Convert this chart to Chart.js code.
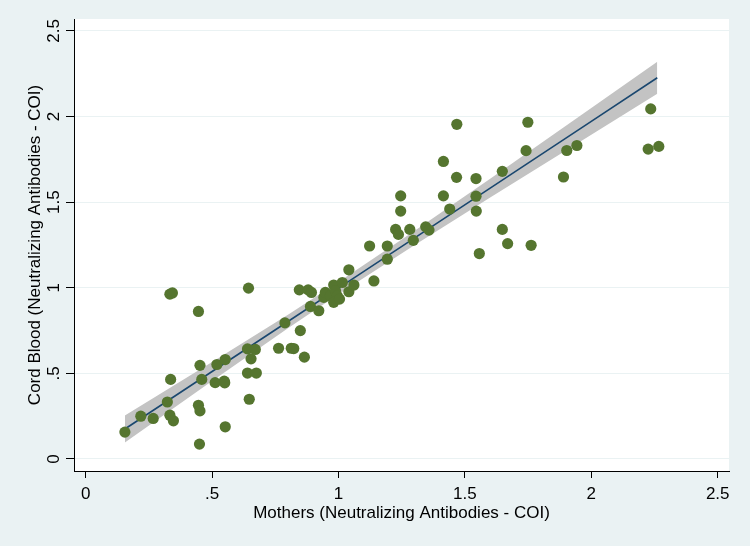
<!DOCTYPE html>
<html>
<head>
<meta charset="utf-8">
<script src="https://cdn.jsdelivr.net/npm/chart.js@4"></script>
<style>
  body { margin: 0; background: #eaf2f3; }
  #chart { display: block; }
</style>
</head>
<body>
<canvas id="chart" width="750" height="546"></canvas>
<script>
const motherValues = [
    0.155, 0.218, 0.267, 0.323, 0.333, 0.347, 0.336, 0.333, 0.343, 0.446,
    0.446, 0.452, 0.450, 0.459, 0.452, 0.519, 0.552, 0.512, 0.548, 0.550,
    0.552, 0.644, 0.640, 0.671, 0.654, 0.640, 0.675, 0.647,
    0.763, 0.788, 0.813, 0.823, 0.845, 0.849, 0.865, 0.880, 0.893, 0.889,
    0.922, 0.942, 0.948, 0.968, 0.981, 0.988, 0.995, 0.981, 1.004, 1.015,
    1.041, 1.061, 1.041, 1.140, 1.123, 1.193, 1.193,
    1.226, 1.237, 1.282, 1.296, 1.345, 1.358, 1.246, 1.246, 1.415, 1.415,
    1.440, 1.468, 1.467, 1.544, 1.544, 1.545, 1.557, 1.648, 1.648, 1.669,
    1.762, 1.749, 1.742, 1.890, 1.903, 1.943, 2.235, 2.225, 2.267
];
const cordValues = [
    0.157, 0.250, 0.237, 0.333, 0.256, 0.223, 0.465, 0.963, 0.970, 0.862,
    0.314, 0.281, 0.087, 0.465, 0.547, 0.552, 0.581, 0.446, 0.455, 0.445,
    0.188, 0.998, 0.643, 0.640, 0.585, 0.502, 0.502, 0.349,
    0.647, 0.795, 0.647, 0.645, 0.988, 0.750, 0.595, 0.988, 0.973, 0.891,
    0.866, 0.944, 0.973, 0.953, 1.016, 0.983, 0.953, 0.915, 0.934, 1.031,
    0.977, 1.016, 1.105, 1.040, 1.244, 1.244, 1.167,
    1.341, 1.312, 1.341, 1.277, 1.356, 1.337, 1.537, 1.448, 1.537, 1.738,
    1.460, 1.955, 1.645, 1.638, 1.535, 1.448, 1.200, 1.680, 1.341, 1.258,
    1.248, 1.967, 1.801, 1.647, 1.802, 1.831, 2.045, 1.810, 1.826
];

// fitted line and 95% CI
const fitX   = [0.155, 0.5, 0.8, 1.0, 1.3, 1.6, 2.0, 2.261];
const fitY   = [0.175, 0.511, 0.803, 0.998, 1.290, 1.582, 1.972, 2.227];
const ciLow  = [0.096, 0.456, 0.763, 0.962, 1.248, 1.527, 1.894, 2.133];
const ciHigh = [0.254, 0.566, 0.843, 1.034, 1.332, 1.637, 2.050, 2.321];

const xTickValues = [0, 0.5, 1, 1.5, 2, 2.5];
const xTickLabels = ["0", ".5", "1", "1.5", "2", "2.5"];
const yTickValues = [0, 0.5, 1, 1.5, 2, 2.5];
const yTickLabels = ["0", ".5", "1", "1.5", "2", "2.5"];

const xTitle = "Mothers (Neutralizing Antibodies - COI)";
const yTitle = "Cord Blood (Neutralizing Antibodies - COI)";

renderChart();

function pairs(xs, ys) {
    return xs.map(function (x, i) { return { x: x, y: ys[i] } });
}

function renderChart() {
    const font = { family: "'Liberation Sans', Arial, sans-serif", size: 17 };

    const background = {
        id: "background",
        beforeDraw: function (chart) {
            const ctx = chart.ctx;
            const a = chart.chartArea;
            ctx.save();
            ctx.fillStyle = "#eaf2f3";
            ctx.fillRect(0, 0, chart.width, chart.height);
            ctx.fillStyle = "#ffffff";
            ctx.fillRect(a.left, a.top, a.right - a.left, a.bottom - a.top);
            ctx.restore();
        },
    };

    const data = {
        datasets: [
            {
                label: "Cord blood",
                data: pairs(motherValues, cordValues),
                backgroundColor: "#55752f",
                borderColor: "#55752f",
                borderWidth: 0,
                pointRadius: 5.6,
            },
            {
                label: "Fitted values",
                data: pairs(fitX, fitY),
                showLine: true,
                borderColor: "#1a476f",
                borderWidth: 1.6,
                pointRadius: 0,
            },
            {
                label: "CI low",
                data: pairs(fitX, ciLow),
                showLine: true,
                borderWidth: 0,
                borderColor: "rgba(0,0,0,0)",
                pointRadius: 0,
            },
            {
                label: "95% CI",
                data: pairs(fitX, ciHigh),
                showLine: true,
                borderWidth: 0,
                borderColor: "rgba(0,0,0,0)",
                backgroundColor: "#c3c3c3",
                fill: "-1",
                pointRadius: 0,
            },
        ],
    };

    const config = {
        type: "scatter",
        data: data,
        plugins: [background],
        options: {
            responsive: false,
            animation: false,
            devicePixelRatio: 1,
            layout: { padding: { top: 19, right: 21, bottom: 0, left: 0 } },
            plugins: {
                legend: { display: false },
                tooltip: { enabled: false },
            },
            scales: {
                x: {
                    type: "linear",
                    min: -0.0463,
                    max: 2.5447,
                    afterBuildTicks: function (scale) {
                        scale.ticks = xTickValues.map(function (v) { return { value: v } });
                    },
                    afterFit: function (scale) { scale.height = 75; },
                    ticks: {
                        font: font,
                        color: "#000",
                        padding: 5.8,
                        maxRotation: 0,
                        autoSkip: false,
                        callback: function (v, i) { return xTickLabels[i]; },
                    },
                    grid: {
                        drawOnChartArea: false,
                        tickLength: 7,
                        tickColor: "#000",
                    },
                    border: { color: "#000", width: 1 },
                    title: {
                        display: true,
                        text: xTitle,
                        font: font,
                        color: "#000",
                        padding: { top: 0, bottom: 22.5 },
                    },
                },
                y: {
                    type: "linear",
                    min: -0.0701,
                    max: 2.570,
                    afterBuildTicks: function (scale) {
                        scale.ticks = yTickValues.map(function (v) { return { value: v } });
                    },
                    afterFit: function (scale) { scale.width = 74; },
                    ticks: {
                        font: font,
                        color: "#000",
                        padding: 0.2,
                        minRotation: 90,
                        maxRotation: 90,
                        crossAlign: "center",
                        autoSkip: false,
                        callback: function (v, i) { return yTickLabels[i]; },
                    },
                    grid: {
                        color: "#eaf2f3",
                        lineWidth: 1,
                        tickLength: 8,
                        tickColor: "#000",
                    },
                    border: { color: "#000", width: 1 },
                    title: {
                        display: true,
                        text: yTitle,
                        font: font,
                        color: "#000",
                        padding: { top: 24.8, bottom: 0 },
                    },
                },
            },
        },
    };

    new Chart(document.getElementById("chart"), config);
}
</script>
</body>
</html>
